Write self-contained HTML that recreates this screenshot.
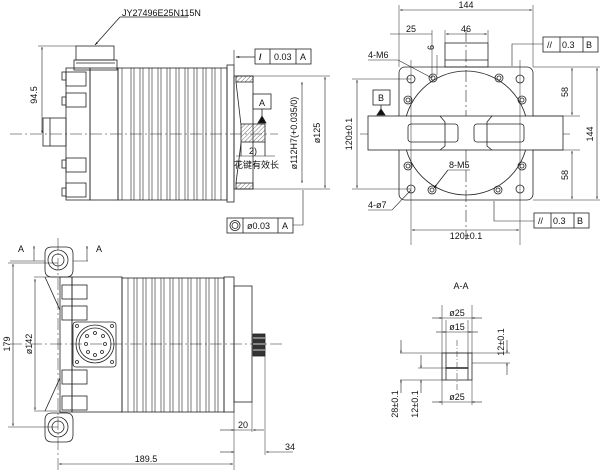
<!DOCTYPE html>
<html><head><meta charset="utf-8"><style>
html,body{margin:0;padding:0;background:#fff;}
svg{display:block;}
text{font-family:"Liberation Sans Narrow","Liberation Sans","Noto Sans CJK SC",sans-serif;font-size:9px;fill:#111;}
</style></head><body>
<svg width="604" height="475" viewBox="0 0 604 475" xmlns="http://www.w3.org/2000/svg">
<defs>
<pattern id="h" width="3" height="3" patternUnits="userSpaceOnUse" patternTransform="rotate(45)"><line x1="0" y1="0" x2="0" y2="3" stroke="#333" stroke-width="0.7"/></pattern>
<marker id="a" viewBox="0 0 10 10" refX="10" refY="5" markerWidth="6" markerHeight="4" orient="auto-start-reverse"><path d="M0,2 L10,5 L0,8z" fill="#111"/></marker>
</defs>
<g fill="none" stroke="#222" stroke-width="0.8">
<!-- ===== TOP LEFT VIEW ===== -->
<line x1="10" y1="134" x2="278" y2="134" stroke-dasharray="12,3,2,3" stroke-width="0.6"/>
<polyline points="120,17 188,17"/><line x1="120" y1="17" x2="95" y2="45" marker-end="url(#a)"/>
<rect x="76" y="46" width="38" height="14"/>
<rect x="74" y="60" width="43" height="10" />
<line x1="76" y1="63" x2="115" y2="63"/>
<rect x="66" y="68" width="24" height="132"/>
<rect x="90" y="68" width="28" height="132"/>
<rect x="43" y="118" width="23" height="28"/>
<line x1="50" y1="118" x2="50" y2="146"/>
<g>
<rect x="62" y="72" width="4" height="8"/><rect x="62" y="97" width="4" height="8"/>
<rect x="62" y="160" width="4" height="8"/><rect x="62" y="188" width="4" height="8"/>
<rect x="66" y="72" width="20" height="14"/><rect x="66" y="93" width="20" height="14"/>
<rect x="66" y="158" width="20" height="14"/><rect x="66" y="183" width="20" height="14"/>
</g>
<rect x="118" y="68" width="109" height="132"/>
<g stroke-width="0.6">
<line x1="122" y1="68" x2="122" y2="200"/><line x1="131" y1="68" x2="131" y2="200"/><line x1="134" y1="68" x2="134" y2="200"/>
<line x1="140" y1="68" x2="140" y2="200"/><line x1="143" y1="68" x2="143" y2="200"/><line x1="149" y1="68" x2="149" y2="200"/>
<line x1="152" y1="68" x2="152" y2="200"/><line x1="158" y1="68" x2="158" y2="200"/><line x1="161" y1="68" x2="161" y2="200"/>
<line x1="167" y1="68" x2="167" y2="200"/><line x1="170" y1="68" x2="170" y2="200"/><line x1="176" y1="68" x2="176" y2="200"/>
<line x1="179" y1="68" x2="179" y2="200"/><line x1="185" y1="68" x2="185" y2="200"/><line x1="188" y1="68" x2="188" y2="200"/>
<line x1="194" y1="68" x2="194" y2="200"/><line x1="197" y1="68" x2="197" y2="200"/><line x1="203" y1="68" x2="203" y2="200"/>
<line x1="206" y1="68" x2="206" y2="200"/><line x1="212" y1="68" x2="212" y2="200"/><line x1="215" y1="68" x2="215" y2="200"/>
<line x1="221" y1="68" x2="221" y2="200"/>
</g>
<rect x="227" y="65" width="7" height="137"/>
<rect x="234" y="76" width="19" height="113"/>
<rect x="236" y="76" width="17" height="6" fill="url(#h)"/><rect x="236" y="183" width="17" height="6" fill="url(#h)"/>
<line x1="236" y1="82" x2="241" y2="125"/><line x1="236" y1="183" x2="241" y2="143"/>
<rect x="241" y="124" width="24" height="18" fill="url(#h)"/>
<line x1="241" y1="142" x2="241" y2="156"/><line x1="265" y1="142" x2="265" y2="156"/>
<line x1="236" y1="156" x2="275" y2="156" stroke-width="0.6"/>
<!-- dims -->
<line x1="38" y1="46" x2="76" y2="46" stroke-width="0.5"/>
<line x1="42" y1="47" x2="42" y2="133" marker-start="url(#a)" marker-end="url(#a)" stroke-width="0.6"/>
<line x1="253" y1="76" x2="330" y2="76" stroke-width="0.5"/><line x1="253" y1="189" x2="330" y2="189" stroke-width="0.5"/>
<line x1="325" y1="77" x2="325" y2="188" marker-start="url(#a)" marker-end="url(#a)" stroke-width="0.6"/>
<line x1="302" y1="82" x2="302" y2="183" marker-start="url(#a)" marker-end="url(#a)" stroke-width="0.6"/>
<line x1="234" y1="50" x2="234" y2="65" stroke-width="0.6"/><line x1="255" y1="57" x2="236" y2="57" marker-end="url(#a)"/>
<rect x="255" y="49" width="56" height="15" fill="#fff"/><line x1="270" y1="49" x2="270" y2="64"/><line x1="296" y1="49" x2="296" y2="64"/>
<rect x="253" y="94" width="18" height="15" fill="#fff"/><line x1="262" y1="109" x2="262" y2="118"/>
<path d="M258,123 L262,116 L266,123z" fill="#111"/>
<polyline points="293,225 303,225 303,190" stroke-width="0.6"/>
<rect x="227" y="218" width="66" height="15" fill="#fff"/><line x1="243" y1="218" x2="243" y2="233"/><line x1="278" y1="218" x2="278" y2="233"/>
<circle cx="235" cy="225.5" r="5"/><circle cx="235" cy="225.5" r="3"/>
<!-- ===== TOP RIGHT VIEW ===== -->
<line x1="466" y1="30" x2="466" y2="240" stroke-dasharray="12,3,2,3" stroke-width="0.6"/>
<line x1="360" y1="134" x2="570" y2="134" stroke-dasharray="12,3,2,3" stroke-width="0.6"/>
<rect x="399" y="67" width="134" height="133" rx="6"/>
<rect x="445" y="43" width="43" height="24"/><line x1="445" y1="60" x2="488" y2="60"/>
<circle cx="466" cy="133" r="62"/>
<rect x="368" y="116" width="195" height="34" fill="#fff"/>
<rect x="408" y="124" width="50" height="18" rx="3"/><rect x="474" y="124" width="50" height="18" rx="3"/>
<path d="M440,116 L445,122 L445,146 L440,150"/><path d="M492,116 L487,122 L487,146 L492,150"/>
<g>
<circle cx="411" cy="79" r="4"/><circle cx="520" cy="79" r="4"/><circle cx="411" cy="189" r="4"/><circle cx="520" cy="189" r="4"/>
<circle cx="433" cy="78" r="4"/><circle cx="433" cy="78" r="2"/><circle cx="499" cy="78" r="4"/><circle cx="499" cy="78" r="2"/>
<circle cx="408" cy="100" r="4"/><circle cx="408" cy="100" r="2"/><circle cx="522" cy="100" r="4"/><circle cx="522" cy="100" r="2"/>
<circle cx="408" cy="166" r="4"/><circle cx="408" cy="166" r="2"/><circle cx="522" cy="166" r="4"/><circle cx="522" cy="166" r="2"/>
<circle cx="432" cy="190" r="4"/><circle cx="432" cy="190" r="2"/><circle cx="498" cy="190" r="4"/><circle cx="498" cy="190" r="2"/>
</g>
<line x1="411" y1="60" x2="411" y2="245" stroke-width="0.5"/><line x1="520" y1="60" x2="520" y2="245" stroke-width="0.5"/>
<line x1="399" y1="5" x2="399" y2="67" stroke-width="0.5"/><line x1="533" y1="5" x2="533" y2="67" stroke-width="0.5"/>
<line x1="400" y1="10" x2="532" y2="10" marker-start="url(#a)" marker-end="url(#a)" stroke-width="0.6"/>
<line x1="390" y1="34" x2="432" y2="34" stroke-width="0.6"/><line x1="432" y1="30" x2="432" y2="78" stroke-width="0.5"/>
<line x1="445" y1="30" x2="445" y2="43" stroke-width="0.5"/><line x1="488" y1="30" x2="488" y2="43" stroke-width="0.5"/>
<line x1="446" y1="34" x2="487" y2="34" marker-start="url(#a)" marker-end="url(#a)" stroke-width="0.6"/>
<line x1="437" y1="55" x2="437" y2="75" stroke-width="0.5"/>
<polyline points="368,60 398,60 432,78" stroke-width="0.6"/>
<line x1="352" y1="79" x2="411" y2="79" stroke-width="0.5"/><line x1="352" y1="189" x2="411" y2="189" stroke-width="0.5"/>
<line x1="357" y1="80" x2="357" y2="188" marker-start="url(#a)" marker-end="url(#a)" stroke-width="0.6"/>
<line x1="412" y1="230" x2="519" y2="230" marker-start="url(#a)" marker-end="url(#a)" stroke-width="0.6"/>
<line x1="533" y1="67" x2="600" y2="67" stroke-width="0.5"/><line x1="533" y1="200" x2="600" y2="200" stroke-width="0.5"/>
<line x1="532" y1="116" x2="580" y2="116" stroke-width="0.5"/><line x1="532" y1="150" x2="580" y2="150" stroke-width="0.5"/>
<line x1="572" y1="68" x2="572" y2="115" marker-start="url(#a)" marker-end="url(#a)" stroke-width="0.6"/>
<line x1="572" y1="151" x2="572" y2="199" marker-start="url(#a)" marker-end="url(#a)" stroke-width="0.6"/>
<line x1="597" y1="68" x2="597" y2="199" marker-start="url(#a)" marker-end="url(#a)" stroke-width="0.6"/>
<polyline points="543,44 512,44 512,66" stroke-width="0.6"/>
<rect x="543" y="37" width="55" height="15" fill="#fff"/><line x1="560" y1="37" x2="560" y2="52"/><line x1="583" y1="37" x2="583" y2="52"/>
<polyline points="534,221 494,221 494,201" stroke-width="0.6"/>
<rect x="534" y="213" width="55" height="15" fill="#fff"/><line x1="551" y1="213" x2="551" y2="228"/><line x1="574" y1="213" x2="574" y2="228"/>
<rect x="373" y="90" width="17" height="15" fill="#fff"/><path d="M377,115 L381,109 L385,115z" fill="#111"/><line x1="381" y1="105" x2="381" y2="109"/>
<polyline points="368,210 392,210 411,190" stroke-width="0.6"/>
<polyline points="448,170 470,170" stroke-width="0.6"/><line x1="448" y1="170" x2="434" y2="188" marker-end="url(#a)"/>
<!-- ===== BOTTOM LEFT VIEW ===== -->
<line x1="10" y1="344" x2="282" y2="344" stroke-dasharray="12,3,2,3" stroke-width="0.6"/>
<line x1="58" y1="238" x2="58" y2="470" stroke-dasharray="12,3,2,3" stroke-width="0.5"/>
<path d="M45,253 Q45,247 52,247 L66,247 Q73,247 73,254 L73,270 Q73,277 66,277 L52,277 Q45,277 45,270z"/>
<circle cx="58" cy="260" r="10"/><circle cx="58" cy="260" r="6"/>
<path d="M45,420 Q45,413 52,413 L66,413 Q73,413 73,420 L73,435 Q73,442 66,442 L52,442 Q45,442 45,435z"/>
<circle cx="58" cy="427" r="10"/><circle cx="58" cy="427" r="6"/>
<line x1="34" y1="277" x2="60" y2="277" stroke-width="0.5"/>
<line x1="34" y1="411" x2="60" y2="411" stroke-width="0.5"/>
<line x1="45" y1="277" x2="60" y2="310"/><line x1="45" y1="411" x2="60" y2="378"/>
<rect x="60" y="277" width="12" height="135"/>
<rect x="72" y="277" width="50" height="135"/>
<rect x="62" y="285" width="25" height="14"/><rect x="62" y="306" width="25" height="14"/>
<rect x="62" y="370" width="25" height="14"/><rect x="62" y="396" width="25" height="14"/>
<rect x="73" y="322" width="43" height="45" rx="3"/>
<circle cx="95" cy="344" r="19"/><circle cx="95" cy="344" r="16"/>
<g fill="#fff"><circle cx="77" cy="326" r="1.5"/><circle cx="112" cy="326" r="1.5"/><circle cx="77" cy="362" r="1.5"/><circle cx="112" cy="362" r="1.5"/>
<circle cx="87" cy="336" r="1.5"/><circle cx="95" cy="333" r="1.5"/><circle cx="103" cy="336" r="1.5"/><circle cx="86" cy="344" r="1.5"/><circle cx="105" cy="344" r="1.5"/><circle cx="88" cy="352" r="1.5"/><circle cx="95" cy="355" r="1.5"/><circle cx="102" cy="352" r="1.5"/></g>
<rect x="122" y="278" width="102" height="134"/>
<g stroke-width="0.6">
<line x1="128" y1="278" x2="128" y2="412"/><line x1="134" y1="278" x2="134" y2="412"/><line x1="137" y1="278" x2="137" y2="412"/>
<line x1="143" y1="278" x2="143" y2="412"/><line x1="146" y1="278" x2="146" y2="412"/><line x1="152" y1="278" x2="152" y2="412"/>
<line x1="155" y1="278" x2="155" y2="412"/><line x1="161" y1="278" x2="161" y2="412"/><line x1="164" y1="278" x2="164" y2="412"/>
<line x1="170" y1="278" x2="170" y2="412"/><line x1="173" y1="278" x2="173" y2="412"/><line x1="179" y1="278" x2="179" y2="412"/>
<line x1="182" y1="278" x2="182" y2="412"/><line x1="188" y1="278" x2="188" y2="412"/><line x1="191" y1="278" x2="191" y2="412"/>
<line x1="197" y1="278" x2="197" y2="412"/><line x1="200" y1="278" x2="200" y2="412"/><line x1="206" y1="278" x2="206" y2="412"/>
<line x1="209" y1="278" x2="209" y2="412"/><line x1="215" y1="278" x2="215" y2="412"/><line x1="218" y1="278" x2="218" y2="412"/>
</g>
<rect x="224" y="277" width="10" height="135"/>
<rect x="234" y="286" width="18" height="116"/>
<rect x="253" y="334" width="12" height="22" fill="#333"/>
<line x1="253" y1="338" x2="265" y2="338" stroke="#fff"/><line x1="253" y1="344" x2="265" y2="344" stroke="#fff"/><line x1="253" y1="350" x2="265" y2="350" stroke="#fff"/>
<!-- section arrows -->
<line x1="10" y1="261" x2="45" y2="261" stroke-width="0.5"/><line x1="34" y1="246" x2="34" y2="261" marker-start="url(#a)" stroke-width="0.6"/>
<line x1="73" y1="261" x2="88" y2="261" stroke-width="0.5"/><line x1="87" y1="246" x2="87" y2="261" marker-start="url(#a)" stroke-width="0.6"/>
<line x1="8" y1="263" x2="58" y2="263" stroke-width="0.5"/><line x1="8" y1="427" x2="58" y2="427" stroke-width="0.5"/>
<line x1="13" y1="264" x2="13" y2="426" marker-start="url(#a)" marker-end="url(#a)" stroke-width="0.6"/>
<line x1="35" y1="279" x2="35" y2="410" marker-start="url(#a)" marker-end="url(#a)" stroke-width="0.6"/>
<line x1="234" y1="412" x2="234" y2="470" stroke-width="0.5"/>
<line x1="252" y1="402" x2="252" y2="432" stroke-width="0.5"/><line x1="265" y1="356" x2="265" y2="455" stroke-width="0.5"/>
<line x1="220" y1="430" x2="234" y2="430" marker-end="url(#a)" stroke-width="0.6"/><line x1="264" y1="430" x2="253" y2="430" marker-end="url(#a)" stroke-width="0.6"/><line x1="234" y1="430" x2="252" y2="430" stroke-width="0.6"/>
<line x1="220" y1="452" x2="234" y2="452" marker-end="url(#a)" stroke-width="0.6"/><line x1="293" y1="452" x2="266" y2="452" marker-end="url(#a)" stroke-width="0.6"/>
<line x1="59" y1="464" x2="233" y2="464" marker-start="url(#a)" marker-end="url(#a)" stroke-width="0.6"/>
<!-- ===== SECTION A-A ===== -->
<line x1="457" y1="340" x2="457" y2="392" stroke-dasharray="6,2,1,2" stroke-width="0.5"/>
<rect x="442" y="353" width="30" height="27"/>
<line x1="446" y1="353" x2="446" y2="380"/><line x1="468" y1="353" x2="468" y2="380"/>
<line x1="446" y1="368" x2="468" y2="368" stroke-width="1.4"/>
<line x1="400" y1="353" x2="510" y2="353" stroke-width="0.5"/><line x1="400" y1="380" x2="442" y2="380" stroke-width="0.5"/>
<line x1="418" y1="368" x2="446" y2="368" stroke-width="0.5"/><line x1="472" y1="363" x2="510" y2="363" stroke-width="0.5"/>
<line x1="442" y1="305" x2="442" y2="353" stroke-width="0.5"/><line x1="472" y1="305" x2="472" y2="353" stroke-width="0.5"/>
<line x1="446" y1="320" x2="446" y2="353" stroke-width="0.5"/><line x1="468" y1="320" x2="468" y2="353" stroke-width="0.5"/>
<line x1="442" y1="380" x2="442" y2="405" stroke-width="0.5"/><line x1="472" y1="380" x2="472" y2="405" stroke-width="0.5"/>
<line x1="432" y1="318" x2="442" y2="318" marker-end="url(#a)" stroke-width="0.6"/><line x1="482" y1="318" x2="472" y2="318" marker-end="url(#a)" stroke-width="0.6"/><line x1="442" y1="318" x2="472" y2="318" stroke-width="0.6"/>
<line x1="436" y1="332" x2="446" y2="332" marker-end="url(#a)" stroke-width="0.6"/><line x1="478" y1="332" x2="468" y2="332" marker-end="url(#a)" stroke-width="0.6"/><line x1="446" y1="332" x2="468" y2="332" stroke-width="0.6"/>
<line x1="432" y1="402" x2="442" y2="402" marker-end="url(#a)" stroke-width="0.6"/><line x1="482" y1="402" x2="472" y2="402" marker-end="url(#a)" stroke-width="0.6"/><line x1="442" y1="402" x2="472" y2="402" stroke-width="0.6"/>
<line x1="507" y1="340" x2="507" y2="353" marker-end="url(#a)" stroke-width="0.6"/><line x1="507" y1="375" x2="507" y2="363" marker-end="url(#a)" stroke-width="0.6"/>
<line x1="401" y1="340" x2="401" y2="353" marker-end="url(#a)" stroke-width="0.6"/><line x1="401" y1="393" x2="401" y2="380" marker-end="url(#a)" stroke-width="0.6"/>
<line x1="421" y1="355" x2="421" y2="368" marker-end="url(#a)" stroke-width="0.6"/><line x1="421" y1="393" x2="421" y2="380" marker-end="url(#a)" stroke-width="0.6"/>
</g>
<!-- TEXT -->
<text x="122" y="16" font-size="8.5">JY27496E25N115N</text>
<text x="37" y="95" transform="rotate(-90 37 95)" text-anchor="middle">94.5</text>
<text x="274" y="60">0.03</text><text x="300" y="60">A</text>
<text x="259" y="60" font-weight="bold">/</text>
<text x="259" y="106">A</text>
<text x="297" y="133" transform="rotate(-90 297 133)" text-anchor="middle">ø112H7(+0.035/0)</text>
<text x="320" y="133" transform="rotate(-90 320 133)" text-anchor="middle">ø125</text>
<text x="249" y="154">2)</text>
<text x="234" y="168" font-size="9">花键有效长</text>
<text x="247" y="229">ø0.03</text><text x="282" y="229">A</text>
<text x="466" y="8" text-anchor="middle">144</text>
<text x="411" y="32" text-anchor="middle">25</text>
<text x="466" y="32" text-anchor="middle">46</text>
<text x="434" y="50" font-size="7" transform="rotate(-90 434 50)">6</text>
<text x="368" y="58">4-M6</text>
<text x="562" y="48">0.3</text><text x="586" y="48">B</text><text x="547" y="48">//</text>
<text x="378" y="101">B</text>
<text x="352" y="134" transform="rotate(-90 352 134)" text-anchor="middle">120±0.1</text>
<text x="568" y="92" transform="rotate(-90 568 92)" text-anchor="middle">58</text>
<text x="568" y="175" transform="rotate(-90 568 175)" text-anchor="middle">58</text>
<text x="593" y="134" transform="rotate(-90 593 134)" text-anchor="middle">144</text>
<text x="449" y="168">8-M5</text>
<text x="368" y="208">4-ø7</text>
<text x="553" y="224">0.3</text><text x="577" y="224">B</text><text x="538" y="224">//</text>
<text x="466" y="239" text-anchor="middle">120±0.1</text>
<text x="18" y="252">A</text><text x="96" y="252">A</text>
<text x="10" y="344" transform="rotate(-90 10 344)" text-anchor="middle">179</text>
<text x="32" y="344" transform="rotate(-90 32 344)" text-anchor="middle">ø142</text>
<text x="243" y="428" text-anchor="middle">20</text>
<text x="290" y="450" text-anchor="middle">34</text>
<text x="146" y="462" text-anchor="middle">189.5</text>
<text x="461" y="289" text-anchor="middle">A-A</text>
<text x="457" y="316" text-anchor="middle">ø25</text>
<text x="457" y="330" text-anchor="middle">ø15</text>
<text x="457" y="400" text-anchor="middle">ø25</text>
<text x="504" y="342" transform="rotate(-90 504 342)" text-anchor="middle">12±0.1</text>
<text x="398" y="404" transform="rotate(-90 398 404)" text-anchor="middle">28±0.1</text>
<text x="418" y="404" transform="rotate(-90 418 404)" text-anchor="middle">12±0.1</text>
</svg>
</body></html>
